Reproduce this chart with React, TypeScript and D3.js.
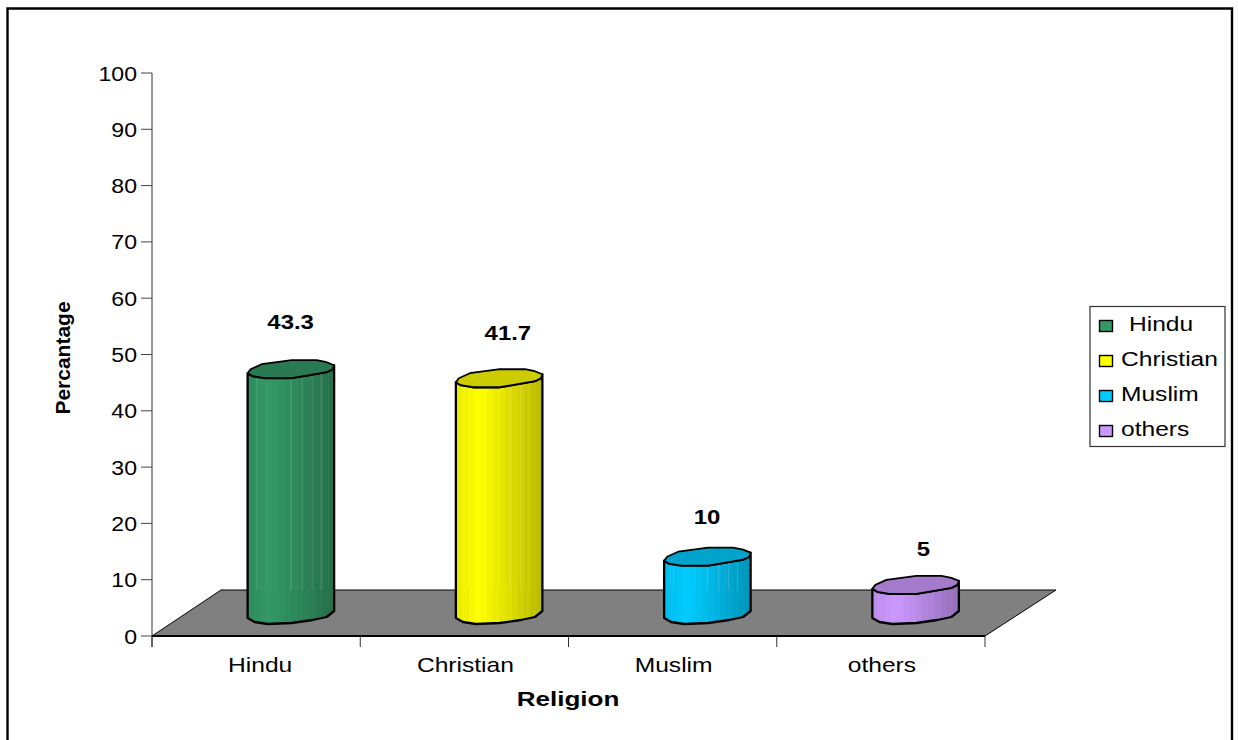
import React from "react";
import * as d3 from "d3";

const categories = ["Hindu", "Christian", "Muslim", "others"];
const percentages = [43.3, 41.7, 10, 5];
const percentageLabels = ["43.3", "41.7", "10", "5"];
const fillColors = ["#339966", "#ffff00", "#00ccff", "#cc99ff"];
const yTicks = [0, 10, 20, 30, 40, 50, 60, 70, 80, 90, 100];

// Plot frame and the oblique offset of the 3D floor
const AXIS_LEFT = 152;
const AXIS_RIGHT = 985;
const AXIS_TOP = 73;
const AXIS_BOTTOM = 636;
const DEPTH_X = 69;
const DEPTH_Y = 46;

// Vertical gap from each cylinder's cap to its value text, and sideways nudge
const labelLift = [40, 38, 33, 29];
const labelNudge = [0, 9, 0, 8];
const legendRows = [325, 360, 395, 430];
const legendTextX = [1129, 1121, 1121, 1121];

const y = d3.scaleLinear().domain([0, 100]).range([AXIS_BOTTOM, AXIS_TOP]);
const x = d3.scaleBand().domain(categories).range([AXIS_LEFT, AXIS_RIGHT]);

// Faceted outlines of the cylinder, relative to its centre
const capUpper: [number, number][] = [
  [-43.5, 4], [-40.5, 0], [-29.5, -5], [0.5, -9], [25.5, -9], [35.5, -7], [43, -4],
];
const capLower: [number, number][] = [
  [43, -4], [41.5, 0], [35.5, 3], [0.5, 9], [-26.5, 9], [-38.5, 7], [-43.5, 4],
];
const baseEdge: [number, number][] = [
  [-43.5, 5], [-36.5, 9], [-23.5, 11], [0.5, 10], [21.5, 7], [35.5, 4], [43, -2],
];

const trace = d3.line();
const shift = (pts: [number, number][], cx: number, cy: number) =>
  pts.map(([a, b]) => [a + cx, b + cy] as [number, number]);

const slatCount = 14;
const slatShade = d3.scaleLinear().domain([0, 0.25, 1]).range([0.93, 1, 0.74]);
const stripeOffsets = [-34, 0, 11, 21, 30];

const shade = (hex: string, k: number) => {
  const c = d3.rgb(hex);
  return d3.rgb(c.r * k, c.g * k, c.b * k).formatHex();
};

const sans = "'Liberation Sans', Arial, sans-serif";

// Liberation Sans drawn slightly wider than its natural proportions
function Label({ px, py, size, bold, anchor = "start", rotate = 0, stretch = 1.2, fill = "#000", children }: any) {
  return (
    <text
      transform={`translate(${px},${py}) rotate(${rotate}) scale(${stretch},1)`}
      fontFamily={sans}
      fontSize={size}
      fontWeight={bold ? 700 : 400}
      textAnchor={anchor}
      fill={fill}
    >
      {children}
    </text>
  );
}

function Cylinder({ cat, value, color, index }: { cat: string; value: number; color: string; index: number }) {
  const cx = (x(cat) as number) + x.bandwidth() / 2 + DEPTH_X / 2 + 0.5;
  const baseY = y(0) - DEPTH_Y / 2;
  const topY = y(value) - DEPTH_Y / 2;
  const floorBackY = y(0) - DEPTH_Y;

  const body = [
    ...shift(capUpper.slice(0, 1), cx, topY),
    ...shift(baseEdge, cx, baseY),
    ...shift(capLower.slice(0, 1), cx, topY),
    ...shift(capLower, cx, topY),
  ];
  const cap = [...shift(capUpper, cx, topY), ...shift(capLower, cx, topY)];
  const clipId = `cyl-body-${index}`;
  const slatWidth = 87 / slatCount;

  return (
    <g>
      <clipPath id={clipId}>
        <path d={`${trace(body)}Z`} />
      </clipPath>
      <g clipPath={`url(#${clipId})`}>
        {d3.range(slatCount).map((i) => (
          <rect
            key={i}
            x={cx - 43.5 + i * slatWidth}
            y={topY - 12}
            width={slatWidth + 0.5}
            height={baseY - topY + 26}
            fill={shade(color, slatShade(i / (slatCount - 1)))}
          />
        ))}
        {stripeOffsets.map((d) => (
          <line
            key={d}
            x1={cx + d}
            x2={cx + d}
            y1={topY}
            y2={Math.max(floorBackY, topY)}
            stroke="#fff"
            strokeOpacity={0.16}
          />
        ))}
      </g>
      <path d={`${trace(body)}Z`} fill="none" stroke="#000" strokeWidth={2.3} strokeLinejoin="round" />
      <path
        d={`${trace(cap)}Z`}
        fill={shade(color, 0.8)}
        stroke="#000"
        strokeWidth={1.8}
        strokeLinejoin="round"
      />
    </g>
  );
}

export default function App() {
  const floor: [number, number][] = [
    [AXIS_LEFT, y(0)],
    [AXIS_LEFT + DEPTH_X, y(0) - DEPTH_Y],
    [AXIS_RIGHT + DEPTH_X + 2, y(0) - DEPTH_Y],
    [AXIS_RIGHT, y(0)],
  ];
  const tickEdges = d3.range(categories.length + 1).map((i) => AXIS_LEFT + i * x.bandwidth());

  return (
    <svg
      width={1238}
      height={740}
      style={{ position: "absolute", left: 0, top: 0, background: "#fff" }}
    >
      {/* outer chart border, open at the bottom of the page */}
      <path d="M7.5,740V8.5H1232V740" fill="none" stroke="#000" strokeWidth={2.4} />

      {/* 3D floor */}
      <path d={`${trace(floor)}Z`} fill="#808080" stroke="#000" strokeWidth={1} />

      {/* value axis */}
      <line x1={AXIS_LEFT} x2={AXIS_LEFT} y1={AXIS_TOP} y2={y(0) + 11} stroke="#333" />
      {yTicks.map((t) => (
        <g key={t}>
          <line x1={AXIS_LEFT - 11} x2={AXIS_LEFT} y1={y(t)} y2={y(t)} stroke="#444" />
          <Label px={AXIS_LEFT - 15} py={y(t) + 7.5} size={21} anchor="end" stretch={1.1}>
            {t}
          </Label>
        </g>
      ))}

      {/* category axis */}
      <line x1={AXIS_LEFT} x2={AXIS_RIGHT} y1={y(0)} y2={y(0)} stroke="#000" strokeWidth={1.8} />
      {tickEdges.map((e) => (
        <line key={e} x1={e} x2={e} y1={y(0)} y2={y(0) + 11} stroke="#333" />
      ))}
      {categories.map((c) => (
        <Label
          key={c}
          px={(x(c) as number) + x.bandwidth() / 2 + (c === "Hindu" ? 4 : 1)}
          py={672}
          size={20.5}
          anchor="middle"
          stretch={1.2}
        >
          {c}
        </Label>
      ))}

      {/* cylinders */}
      {categories.map((c, i) => (
        <Cylinder key={c} cat={c} value={percentages[i]} color={fillColors[i]} index={i} />
      ))}

      {/* value labels */}
      {categories.map((c, i) => (
        <Label
          key={c}
          px={(x(c) as number) + x.bandwidth() / 2 + DEPTH_X / 2 + labelNudge[i]}
          py={y(percentages[i]) - DEPTH_Y / 2 - labelLift[i]}
          size={21}
          bold
          anchor="middle"
          stretch={1.14}
        >
          {percentageLabels[i]}
        </Label>
      ))}

      {/* axis titles */}
      <Label px={70} py={358} size={21} bold anchor="middle" rotate={-90} stretch={1.0}>
        Percantage
      </Label>
      <Label px={568} py={706} size={21} bold anchor="middle" stretch={1.24}>
        Religion
      </Label>

      {/* legend */}
      <rect x={1090} y={306.5} width={135} height={140} fill="#fff" stroke="#333" strokeWidth={1.2} />
      {categories.map((c, i) => (
        <g key={c}>
          <rect
            x={1099.5}
            y={legendRows[i] - 4.5}
            width={13}
            height={11}
            fill={fillColors[i]}
            stroke="#000"
            strokeWidth={1.4}
          />
          <Label px={legendTextX[i]} py={legendRows[i] + 6} size={21} stretch={1.17}>
            {c}
          </Label>
        </g>
      ))}
    </svg>
  );
}
